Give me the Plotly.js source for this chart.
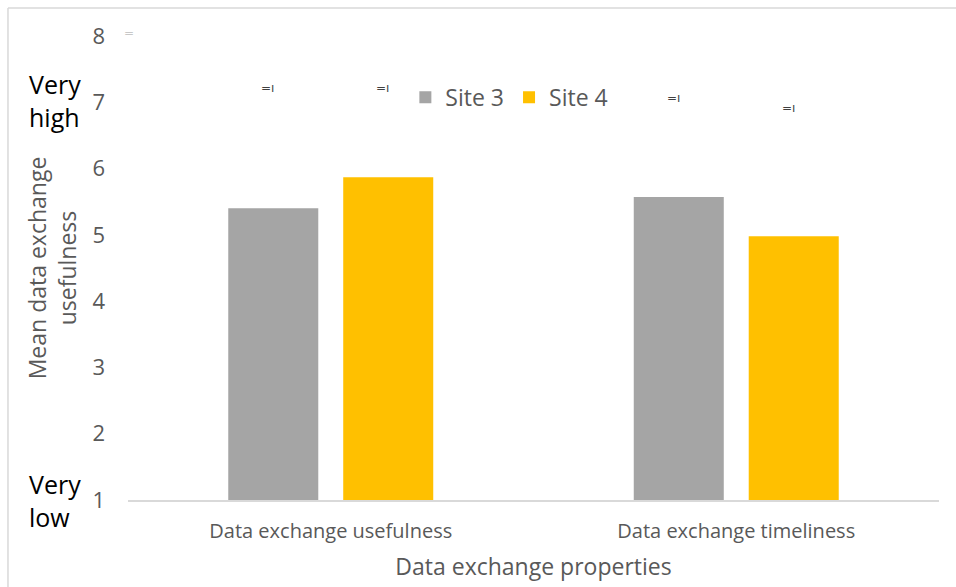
<!DOCTYPE html>
<html>
<head>
<meta charset="utf-8">
<script src="https://cdn.plot.ly/plotly-3.0.1.min.js"></script>
<style>
  html, body { margin: 0; padding: 0; background: #fff; }
  #chart { width: 956px; height: 587px; }
</style>
</head>
<body>
<div id="chart"></div>
<script>
// Data
var categories = ['Data exchange usefulness', 'Data exchange timeliness'];
var seriesNames = ['Site 3', 'Site 4'];
var site3Values = [5.4, 5.57];
var site4Values = [5.87, 4.98];
var yTickValues = [1, 2, 3, 4, 5, 6, 7, 8];
var scaleLabels = ['Very<br>high', 'Very<br>low'];
var scaleLabelValues = [7, 1];
// small stray marks seen above bars (category, value, series index)
var markCats = [categories[0], categories[0], categories[1], categories[1]];
var markVals = [7.21, 7.21, 7.06, 6.91];
var markSeries = [0, 1, 0, 1];

var textGray = '#595959';
var font = 'Open Sans, sans-serif';

var traces = [
  { type: 'bar', name: seriesNames[0], x: categories, y: site3Values,
    marker: { color: '#A5A5A5' }, hoverinfo: 'none' },
  { type: 'bar', name: seriesNames[1], x: categories, y: site4Values,
    marker: { color: '#FFC000' }, hoverinfo: 'none' }
];

var annotations = [];
for (var i = 0; i < scaleLabels.length; i++) {
  annotations.push({
    text: scaleLabels[i], xref: 'paper', yref: 'y', x: -0.09, y: scaleLabelValues[i],
    yshift: i === 0 ? 2 : 0,
    xanchor: 'center', yanchor: 'middle', showarrow: false, align: 'left',
    font: { family: font, size: 25, color: '#000000' }
  });
}
for (var j = 0; j < markCats.length; j++) {
  annotations.push({
    text: '=ı', xref: 'x', yref: 'y', x: markCats[j], y: markVals[j],
    xshift: markSeries[j] === 0 ? -63 : 52, showarrow: false,
    font: { family: 'DejaVu Sans, sans-serif', size: 12, color: '#404040' }
  });
}
annotations.push({
  text: '=', xref: 'paper', yref: 'y', x: -0.007, y: 8, yshift: 3, showarrow: false,
  font: { family: 'DejaVu Sans, sans-serif', size: 12, color: '#C8C8C8' }
});

var layout = {
  width: 956, height: 587,
  margin: { l: 128, r: 17, t: 36, b: 87 },
  paper_bgcolor: '#ffffff', plot_bgcolor: '#ffffff',
  barmode: 'group', bargap: 0.433, bargroupgap: 0.217,
  font: { family: font, color: textGray },
  showlegend: true,
  legend: {
    orientation: 'h', x: 0.342, y: 0.868, xanchor: 'left', yanchor: 'middle',
    font: { family: font, size: 23, color: textGray }, bgcolor: 'rgba(0,0,0,0)'
  },
  xaxis: {
    type: 'category', showgrid: false, zeroline: false,
    showline: true, linecolor: '#D9D9D9', linewidth: 2, ticks: '',
    tickfont: { family: font, size: 20, color: textGray }, ticklabelstandoff: 12,
    title: { text: 'Data exchange properties', font: { family: font, size: 23, color: textGray }, standoff: 16 }
  },
  yaxis: {
    range: [1, 8], tickvals: yTickValues, showgrid: false, zeroline: false,
    showline: false, ticks: '',
    tickfont: { family: font, size: 22, color: textGray }, ticklabelstandoff: 22,
    title: { text: 'Mean data exchange<br>usefulness', font: { family: font, size: 23, color: textGray }, standoff: 9 }
  },
  shapes: [
    { type: 'line', xref: 'paper', yref: 'paper', x0: -0.148, x1: 1.03, y0: 1.0603, y1: 1.0603,
      line: { color: '#D9D9D9', width: 1.5 } },
    { type: 'line', xref: 'paper', yref: 'paper', x0: -0.148, x1: -0.148, y0: 1.0603, y1: -0.2,
      line: { color: '#D9D9D9', width: 1.5 } }
  ],
  annotations: annotations
};

Plotly.newPlot('chart', traces, layout, { displayModeBar: false, staticPlot: true });
</script>
</body>
</html>
